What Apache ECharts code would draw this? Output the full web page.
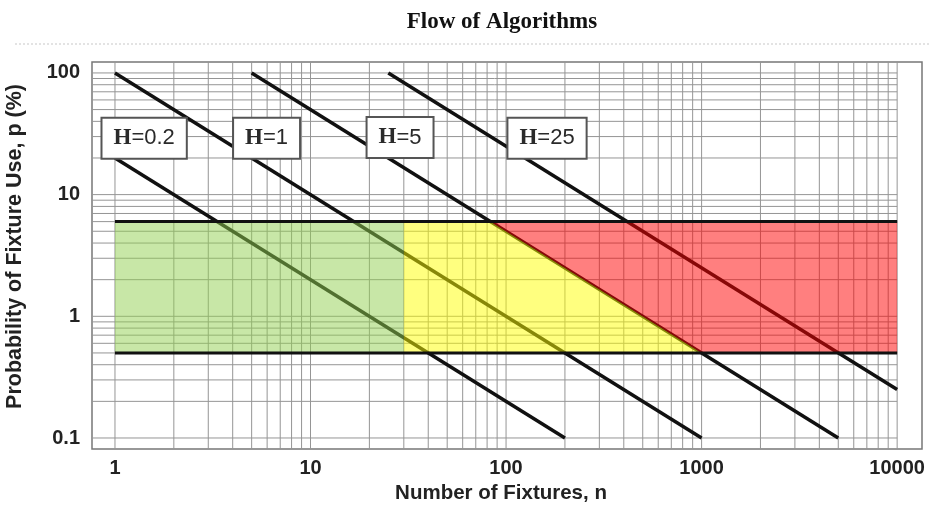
<!DOCTYPE html>
<html>
<head>
<meta charset="utf-8">
<script src="https://cdn.jsdelivr.net/npm/echarts@6/dist/echarts.min.js"></script>
<style>html,body{margin:0;padding:0;background:#fff}#c{width:930px;height:510px}</style>
</head>
<body>
<div id="c"></div>
<script>
// ---- data ----
const lineNames = ['H=0.2', 'H=1', 'H=5', 'H=25'];
const lineH02 = [[1, 20], [200, 0.1]];
const lineH1 = [[1, 100], [1000, 0.1]];
const lineH5 = [[5, 100], [5000, 0.1]];
const lineH25 = [[25, 100], [10000, 0.25]];
const labelPos = [[1.41, 29], [5.96, 29], [28.7, 29.5], [162, 29]];
const bandTop = [[1, 6], [10000, 6]];
const bandBottom = [[1, 0.5], [10000, 0.5]];
const greenRegion = [[1, 6], [30, 6], [30, 0.5], [1, 0.5]];
const yellowRegion = [[30, 6], [83, 6], [1000, 0.5], [30, 0.5]];
const redRegion = [[83, 6], [10000, 6], [10000, 0.5], [1000, 0.5]];
const xTickLabels = ['1', '10', '100', '1000', '10000'];
const yTickLabels = ['0.1', '1', '10', '100'];
const xGridValues = [1,2,3,4,5,6,7,8,9,10,20,30,40,50,60,70,80,90,100,200,300,400,500,600,700,800,900,1000,2000,3000,4000,5000,6000,7000,8000,9000,10000];
const yGridValues = [0.1,0.2,0.3,0.4,0.5,0.6,0.7,0.8,0.9,1,2,3,4,5,6,7,8,9,10,20,30,40,50,60,70,80,90,100];
const xMin = 0.763, xMax = 13400, yMin = 0.0812, yMax = 123;

// ---- build ----
const chart = echarts.init(document.getElementById('c'));
const segs = [];
xGridValues.forEach(v => segs.push([v, yMin, v, yMax]));
yGridValues.forEach(v => segs.push([xMin, v, 10000, v]));

function isPow10(v) { const l = Math.log10(v); return Math.abs(l - Math.round(l)) < 1e-6; }
function fmt(v, list) {
  if (!isPow10(v)) return '';
  const s = String(+(+v).toPrecision(4));
  return list.indexOf(s) >= 0 ? s : '';
}
function polySeries(region, color) {
  return {
    type: 'custom', z: 3, silent: true,
    data: region, encode: { x: 0, y: 1 },
    renderItem: function (params, api) {
      if (params.dataIndex !== 0) return null;
      return { type: 'polygon', shape: { points: region.map(p => api.coord(p)) }, style: { fill: color } };
    }
  };
}
function hLine(data, z, color, w) {
  return { type: 'line', data: data, z: z, symbol: 'none', silent: true,
    lineStyle: { color: color, width: w }, animation: false };
}

const option = {
  animation: false,
  title: {
    text: 'Flow of Algorithms', left: 497, top: 6, textAlign: 'center',
    textStyle: { fontFamily: 'Liberation Serif', fontWeight: 'bold', fontSize: 23, color: '#111' }
  },
  graphic: [{
    type: 'line', shape: { x1: 15, y1: 44, x2: 930, y2: 44 },
    style: { stroke: '#c8c8c8', lineWidth: 1, lineDash: [2, 2] }
  }],
  grid: { left: 92, right: 8, top: 62, bottom: 61, show: true, borderColor: '#777', borderWidth: 1.5,
    outerBoundsMode: 'none', containLabel: false },
  xAxis: {
    type: 'log', min: xMin, max: xMax,
    name: 'Number of Fixtures, n', nameLocation: 'middle', nameGap: 33,
    nameTextStyle: { fontFamily: 'Liberation Sans', fontWeight: 'bold', fontSize: 20.5, color: '#222',
      padding: [0, 12, 0, 0] },
    axisLine: { show: false }, axisTick: { show: false }, splitLine: { show: false },
    axisLabel: { margin: 9, formatter: v => fmt(v, xTickLabels),
      fontFamily: 'Liberation Sans', fontWeight: 'bold', fontSize: 20, color: '#222' }
  },
  yAxis: {
    type: 'log', min: yMin, max: yMax,
    name: 'Probability of Fixture Use, p (%)', nameLocation: 'middle', nameGap: 66,
    nameTextStyle: { fontFamily: 'Liberation Sans', fontWeight: 'bold', fontSize: 21.5, color: '#222',
      padding: [0, 0, 0, 18] },
    axisLine: { show: false }, axisTick: { show: false }, splitLine: { show: false },
    axisLabel: { margin: 12, formatter: v => fmt(v, yTickLabels),
      fontFamily: 'Liberation Sans', fontWeight: 'bold', fontSize: 20, color: '#222' }
  },
  series: [
    {
      type: 'custom', z: 1, silent: true, data: segs, encode: { x: [0, 2], y: [1, 3] },
      renderItem: function (params, api) {
        const a = api.coord([api.value(0), api.value(1)]);
        const b = api.coord([api.value(2), api.value(3)]);
        return { type: 'line', shape: { x1: a[0], y1: a[1], x2: b[0], y2: b[1] },
          style: { stroke: '#959595', lineWidth: 1 } };
      }
    },
    hLine(lineH02, 2, '#111', 3.5),
    hLine(lineH1, 2, '#111', 3.5),
    hLine(lineH5, 2, '#111', 3.5),
    hLine(lineH25, 2, '#111', 3.5),
    polySeries(greenRegion, 'rgba(146,208,80,0.5)'),
    polySeries(yellowRegion, 'rgba(255,255,0,0.5)'),
    polySeries(redRegion, 'rgba(255,0,0,0.5)'),
    hLine(bandTop, 4, '#111', 3),
    hLine(bandBottom, 4, '#111', 3),
    {
      type: 'scatter', z: 10, silent: true, symbolSize: 1, itemStyle: { color: 'rgba(0,0,0,0)' },
      data: labelPos.map((p, i) => ({ value: p, name: lineNames[i] })),
      label: {
        show: true, position: 'inside', opacity: 1,
        formatter: p => '{h|H}{t|' + p.name.slice(1) + '}',
        backgroundColor: '#fff', borderColor: '#555', borderWidth: 2, padding: [8, 11],
        rich: {
          h: { fontFamily: 'Liberation Serif', fontWeight: 'bold', fontSize: 23, color: '#2a2a2a' },
          t: { fontFamily: 'Liberation Sans', fontSize: 22, color: '#2a2a2a' }
        }
      }
    }
  ]
};
chart.setOption(option);
</script>
</body>
</html>
